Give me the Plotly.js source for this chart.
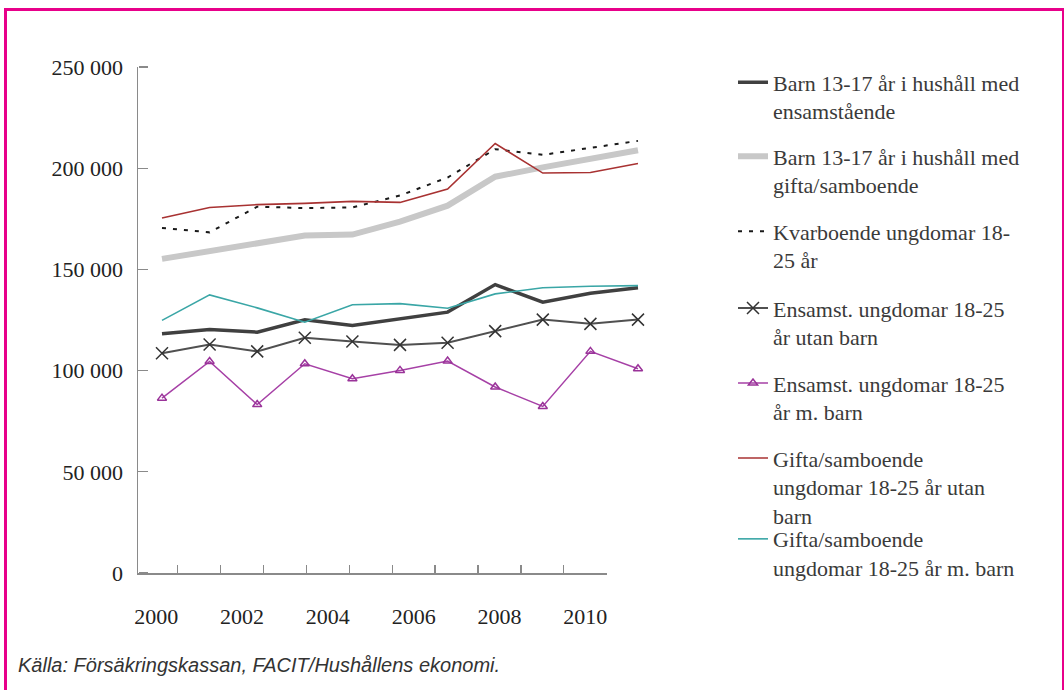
<!DOCTYPE html>
<html>
<head>
<meta charset="utf-8">
<script src="https://cdn.plot.ly/plotly-3.0.1.min.js"></script>
<style>
  html, body { margin: 0; padding: 0; background: #fff; }
  #wrap { position: relative; width: 1064px; height: 690px; overflow: hidden; }
  #chart { position: absolute; left: 0; top: 0; width: 1064px; height: 690px; }
  #frame { position: absolute; left: 4px; top: 8px; width: 1055px; height: 700px;
           border: 3px solid #e8008a; pointer-events: none; }
</style>
</head>
<body>
<div id="wrap">
  <div id="chart"></div>
  <div id="frame"></div>
</div>
<script>
// ---- data ----
const years = [2000, 2001, 2002, 2003, 2004, 2005, 2006, 2007, 2008, 2009, 2010];
const barnEnsam  = [118200, 120300, 119000, 125100, 122300, 125700, 128900, 142500, 133800, 138200, 140900];
const barnGifta  = [155200, 158900, 162600, 166700, 167200, 173600, 181500, 195800, 200400, 204500, 208900];
const kvarboende = [170500, 168300, 181000, 180300, 180600, 186500, 195400, 209400, 206600, 210200, 213500];
const ensamUtan  = [108600, 112900, 109500, 116200, 114400, 112700, 113800, 119500, 125200, 123100, 125200];
const ensamMed   = [86400, 104500, 83200, 103400, 96000, 100100, 104700, 91900, 82300, 109500, 100900];
const giftaUtan  = [175400, 180600, 182000, 182600, 183600, 183100, 189700, 212200, 197600, 197900, 202300];
const giftaMed   = [124800, 137400, 131000, 123900, 132500, 133100, 130800, 137900, 140900, 141700, 142000];

const seriesNames = [
  'Barn 13-17 år i hushåll med<br>ensamstående',
  'Barn 13-17 år i hushåll med<br>gifta/samboende',
  'Kvarboende ungdomar 18-<br>25 år',
  'Ensamst. ungdomar 18-25<br>år utan barn',
  'Ensamst. ungdomar 18-25<br>år m. barn',
  'Gifta/samboende<br>ungdomar 18-25 år utan<br>barn',
  'Gifta/samboende<br>ungdomar 18-25 år m. barn'
];

const yTickVals = [0, 50000, 100000, 150000, 200000, 250000];
const yTickText = ['0', '50 000', '100 000', '150 000', '200 000', '250 000'];
const xLabelYears = [2000, 2002, 2004, 2006, 2008, 2010];
const xLabelText = ['2000', '2002', '2004', '2006', '2008', '2010'];
const sourceText = 'Källa: Försäkringskassan, FACIT/Hushållens ekonomi.';

// ---- geometry helpers (pixels -> paper) ----
const W = 1064, H = 690;
const L = 138, R = 660, T = 66.5, B = 573;
const PW = R - L, PH = B - T;
const px = v => (v - L) / PW;
const py = v => 1 - (v - T) / PH;

const serif = 'Liberation Serif, Times New Roman, serif';
const txtColor = '#3a3a3a';
const axisGray = '#8a8a8a';

const styles = [
  { line: { color: '#404040', width: 3.5 } },
  { line: { color: '#c8c8c8', width: 6 } },
  { line: { color: '#1a1a1a', width: 2, dash: '4px,7px' } },
  { mode: 'lines+markers', line: { color: '#505050', width: 2 },
    marker: { symbol: 'x-thin', size: 12, line: { color: '#333333', width: 1.5 } } },
  { mode: 'lines+markers', line: { color: '#a640a6', width: 1.5 },
    marker: { symbol: 'triangle-up-open', size: 8, color: '#9a3399', line: { width: 1.5 } } },
  { line: { color: '#a83232', width: 1.6 } },
  { line: { color: '#3aa6a6', width: 1.6 } }
];
const seriesValues = [barnEnsam, barnGifta, kvarboende, ensamUtan, ensamMed, giftaUtan, giftaMed];
const legendIds = ['legend', 'legend2', 'legend3', 'legend4', 'legend5', 'legend6', 'legend7'];

// data traces on the (hidden) x axis / y axis
const traces = seriesValues.map((vals, i) => Object.assign({
  type: 'scatter', mode: 'lines', x: years, y: vals, name: seriesNames[i],
  xaxis: 'x', yaxis: 'y', legend: legendIds[i], hoverinfo: 'x+y'
}, styles[i]));
// empty traces registering the tick / label axes (no marks)
[['x2', 'y'], ['x3', 'y'], ['x', 'y2'], ['x', 'y3']].forEach(p => traces.push({
  type: 'scatter', mode: 'lines', x: [], y: [], xaxis: p[0], yaxis: p[1],
  showlegend: false, hoverinfo: 'skip'
}));

const boundaries = years.map(y => y + 0.5);
const xRange = [1999.575, 2010.507];
const dataRange = [2000 - (162 - L) / 47.6, 2000 + (R - 162) / 47.6];

const legendTops = [61, 135, 210, 287, 362, 437, 518];
const legendX = 733;

const layout = {
  width: W, height: H,
  margin: { l: L, r: W - R, t: T, b: H - B, pad: 0 },
  paper_bgcolor: '#ffffff', plot_bgcolor: 'rgba(0,0,0,0)',
  showlegend: true,
  xaxis: {
    type: 'linear', domain: [0, 1], range: dataRange, anchor: 'y',
    visible: false, showgrid: false, zeroline: false, fixedrange: true
  },
  xaxis2: {
    visible: true, type: 'linear', domain: [0, (607 - L) / PW], range: xRange, anchor: 'y',
    tickmode: 'array', tickvals: boundaries, showticklabels: false,
    ticks: 'inside', ticklen: 8, tickwidth: 1.3, tickcolor: axisGray,
    showline: true, linecolor: axisGray, linewidth: 1.5,
    showgrid: false, zeroline: false, fixedrange: true
  },
  xaxis3: {
    visible: true, type: 'linear', overlaying: 'x2', anchor: 'y', side: 'bottom', range: xRange,
    tickmode: 'array', tickvals: xLabelYears, ticktext: xLabelText,
    ticks: '', showline: false, showgrid: false, zeroline: false,
    ticklabelstandoff: 28,
    tickfont: { family: serif, size: 22, color: '#222222' }, fixedrange: true
  },
  yaxis: {
    visible: true, type: 'linear', domain: [0, 1], range: [0, 250000], anchor: 'x',
    tickmode: 'array', tickvals: yTickVals, showticklabels: false,
    ticks: 'inside', ticklen: 9, tickwidth: 1.3, tickcolor: axisGray,
    showline: true, linecolor: axisGray, linewidth: 1.5,
    showgrid: false, zeroline: false, fixedrange: true
  },
  yaxis2: {
    visible: true, type: 'linear', overlaying: 'y', anchor: 'x', side: 'left', range: [0, 250000],
    tickmode: 'array', tickvals: yTickVals, ticktext: yTickText,
    ticks: '', showline: false, showgrid: false, zeroline: false,
    ticklabelstandoff: 14,
    tickfont: { family: serif, size: 22, color: '#222222' }, fixedrange: true
  },
  // tick marks pointing into the plot, drawn from the left edge
  yaxis3: {
    visible: true, type: 'linear', overlaying: 'y', anchor: 'free', position: 0, side: 'right',
    range: [0, 250000], tickmode: 'array', tickvals: yTickVals, showticklabels: false,
    ticks: 'outside', ticklen: 9, tickwidth: 1.3, tickcolor: axisGray,
    showline: false, showgrid: false, zeroline: false, fixedrange: true
  },
  annotations: [{
    xref: 'paper', yref: 'paper', x: px(16), y: py(665),
    xanchor: 'left', yanchor: 'middle', showarrow: false,
    text: '<i>' + sourceText + '</i>',
    font: { family: 'Liberation Sans, Arial, sans-serif', size: 20, color: '#333333' }
  }]
};
legendIds.forEach((id, i) => {
  layout[id] = {
    font: { family: serif, size: 22, color: txtColor },
    bgcolor: 'rgba(0,0,0,0)', borderwidth: 0,
    xanchor: 'left', yanchor: 'top', valign: 'top', itemwidth: 30,
    x: px(legendX), y: py(legendTops[i])
  };
});

Plotly.newPlot('chart', traces, layout, { displayModeBar: false, staticPlot: true });
</script>
</body>
</html>
